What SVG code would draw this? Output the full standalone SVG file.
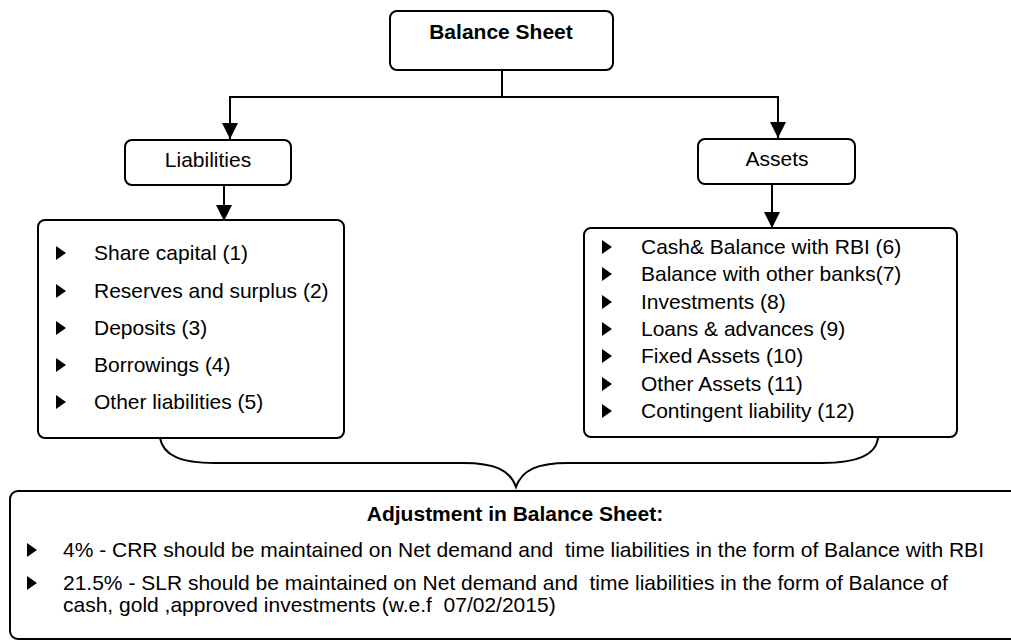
<svg xmlns="http://www.w3.org/2000/svg" width="1011" height="641" viewBox="0 0 1011 641">
<defs>
<style>
.box{fill:#fff;stroke:#000;stroke-width:2}
.ln{fill:none;stroke:#000;stroke-width:2}
.t{font-family:"Liberation Sans",Arial,sans-serif;font-size:21px;fill:#000;white-space:pre}
.b{font-weight:bold}
</style>
<marker id="ah" markerUnits="userSpaceOnUse" markerWidth="16" markerHeight="16" refX="16" refY="8" orient="auto">
<path d="M0,0 L16,8 L0,16 z" fill="#000"/>
</marker>
<path id="tri" d="M0,-14 L0,0 L10,-7 z"/>
</defs>
<rect width="1011" height="641" fill="#fff"/>
<g id="connectors">
<path class="ln" d="M502,70 V97 H230 V139" marker-end="url(#ah)"/>
<path class="ln" d="M502,97 H778 V138" marker-end="url(#ah)"/>
<path class="ln" d="M224,185 V221" marker-end="url(#ah)"/>
<path class="ln" d="M772,184 V228" marker-end="url(#ah)"/>
<path class="ln" d="M160,438 C163,455 180,463 215,463 L463,463 C495,463 510,470 516,487 C522,470 537,463 568,463 L822,463 C858,463 876,455 878,438"/>
</g>
<g id="balance-sheet">
<rect class="box" x="390" y="11" width="223" height="59" rx="7"/>
<text class="t b" x="501" y="39" text-anchor="middle">Balance Sheet</text>
</g>
<g id="liabilities">
<rect class="box" x="125" y="140" width="166" height="45" rx="7"/>
<text class="t" x="208" y="167" text-anchor="middle">Liabilities</text>
</g>
<g id="assets">
<rect class="box" x="698" y="139" width="157" height="45" rx="7"/>
<text class="t" x="777" y="166" text-anchor="middle">Assets</text>
</g>
<g id="liabilities-list">
<rect class="box" x="38" y="220" width="306" height="218" rx="7"/>
<use href="#tri" x="56" y="260"/>
<use href="#tri" x="56" y="298"/>
<use href="#tri" x="56" y="335"/>
<use href="#tri" x="56" y="372"/>
<use href="#tri" x="56" y="409"/>
<text class="t" x="94" y="260">Share capital (1)</text>
<text class="t" x="94" y="298">Reserves and surplus (2)</text>
<text class="t" x="94" y="335">Deposits (3)</text>
<text class="t" x="94" y="372">Borrowings (4)</text>
<text class="t" x="94" y="409">Other liabilities (5)</text>
</g>
<g id="assets-list">
<rect class="box" x="584" y="228" width="373" height="209" rx="7"/>
<use href="#tri" x="602" y="254"/>
<use href="#tri" x="602" y="281"/>
<use href="#tri" x="602" y="309"/>
<use href="#tri" x="602" y="336"/>
<use href="#tri" x="602" y="363"/>
<use href="#tri" x="602" y="391"/>
<use href="#tri" x="602" y="418"/>
<text class="t" x="641" y="254">Cash&amp; Balance with RBI (6)</text>
<text class="t" x="641" y="281">Balance with other banks(7)</text>
<text class="t" x="641" y="309">Investments (8)</text>
<text class="t" x="641" y="336">Loans &amp; advances (9)</text>
<text class="t" x="641" y="363">Fixed Assets (10)</text>
<text class="t" x="641" y="391">Other Assets (11)</text>
<text class="t" x="641" y="418">Contingent liability (12)</text>
</g>
<g id="adjustment">
<rect class="box" x="10" y="491" width="1030" height="148" rx="8"/>
<text class="t b" x="515" y="521" text-anchor="middle">Adjustment in Balance Sheet:</text>
<use href="#tri" x="27" y="557"/>
<use href="#tri" x="27" y="590"/>
<text class="t" x="63" y="557">4% - CRR should be maintained on Net demand and  time liabilities in the form of Balance with RBI</text>
<text class="t" x="63" y="590">21.5% - SLR should be maintained on Net demand and  time liabilities in the form of Balance of</text>
<text class="t" x="63" y="612">cash, gold ,approved investments (w.e.f  07/02/2015)</text>
</g>
</svg>
